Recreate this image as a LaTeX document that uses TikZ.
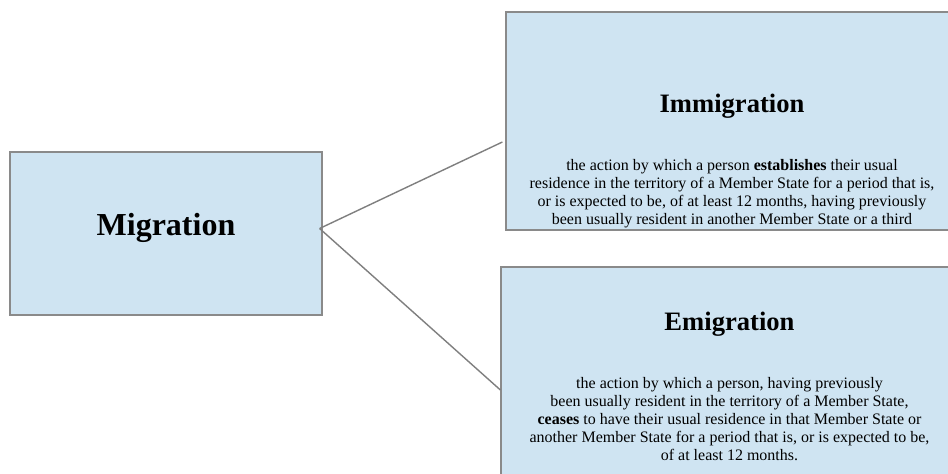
\documentclass[tikz,border=0pt]{standalone}
\usepackage{fontspec}
\setmainfont{Liberation Serif}
\definecolor{boxfill}{HTML}{CFE4F2}
\definecolor{boxline}{HTML}{8A8A8A}
\definecolor{linkline}{HTML}{7F7F7F}
\begin{document}
\begin{tikzpicture}[x=1pt,y=1pt,
  card/.style={draw=boxline, line width=1.2pt, fill=boxfill, rectangle, inner sep=0pt},
  bigtitle/.style={font=\fontsize{32}{38}\selectfont\bfseries, inner sep=0pt, anchor=base},
  subtitle/.style={font=\fontsize{26.6}{31}\selectfont\bfseries, inner sep=0pt, anchor=base},
  bodytext/.style={font=\fontsize{16}{18.1}\selectfont, inner sep=0pt, align=center, anchor=base},
  link/.style={draw=linkline, line width=1.4pt}]
\useasboundingbox (0,0) rectangle (948,474);
\clip (0,0) rectangle (948,474);
\fill[white] (0,0) rectangle (948,474);

% left box
\node[card, minimum width=312, minimum height=163] (mig) at (166,240.5) {};
\node[bigtitle] (migt) at (166,238) {Migration};

% upper right box (text placed by the baseline of its last line)
\node[card, minimum width=451, minimum height=218] (imm) at (731.5,353) {};
\node[subtitle] (immt) at (732,361) {Immigration};
\node[bodytext] (immb) at (732,249) {the action by which a person \textbf{establishes} their usual\\
residence in the territory of a Member State for a period that is,\\
or is expected to be, of at least 12 months, having previously\\
been usually resident in another Member State or a third};

% lower right box
\node[card, minimum width=456, minimum height=240] (emi) at (729,87) {};
\node[subtitle] (emit) at (729.5,143) {Emigration};
\node[bodytext] (emib) at (729.5,13) {the action by which a person, having previously\\
been usually resident in the territory of a Member State,\\
\textbf{ceases} to have their usual residence in that Member State or\\
another Member State for a period that is, or is expected to be,\\
of at least 12 months.};

% connectors
\coordinate (hub) at ([xshift=-3pt,yshift=5pt]mig.east);
\coordinate (immend) at ([xshift=-3pt,yshift=-21pt]imm.west);
\coordinate (emiend) at ([yshift=-3pt]emi.west);
\draw[link] (hub) -- (immend);
\draw[link] (hub) -- (emiend);
\end{tikzpicture}
\end{document}
